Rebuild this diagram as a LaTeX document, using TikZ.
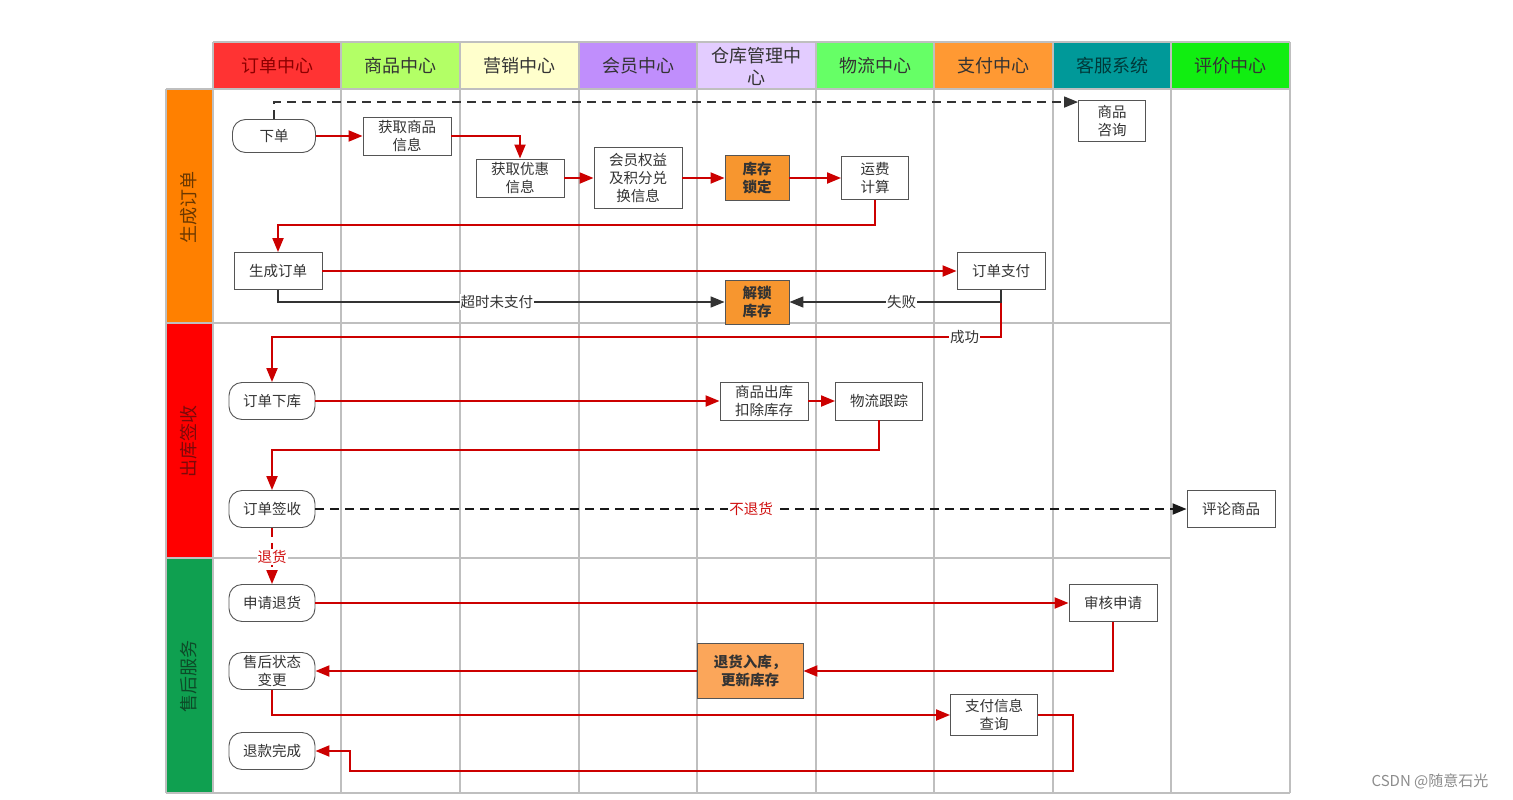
\documentclass[tikz,border=0pt]{standalone}
\usepackage{fontspec}
\setmainfont{Noto Sans CJK SC}
\usetikzlibrary{arrows.meta,calc}
\definecolor{redline}{HTML}{CC0000}
\definecolor{gridc}{HTML}{BFBFBF}
\definecolor{darkline}{HTML}{333333}
\definecolor{boxborder}{HTML}{555555}
\definecolor{textgray}{HTML}{333333}
\definecolor{orangeA}{HTML}{F7962F}
\definecolor{orangeB}{HTML}{FBA65A}
\definecolor{lblred}{HTML}{D01010}
\definecolor{hA}{HTML}{FF3333}
\definecolor{hB}{HTML}{B3FF66}
\definecolor{hC}{HTML}{FFFFCC}
\definecolor{hD}{HTML}{C08EFC}
\definecolor{hE}{HTML}{E3CCFF}
\definecolor{hF}{HTML}{66FF66}
\definecolor{hG}{HTML}{FF9933}
\definecolor{hH}{HTML}{009999}
\definecolor{hI}{HTML}{11EE11}
\definecolor{lA}{HTML}{FF8000}
\definecolor{lB}{HTML}{FF0000}
\definecolor{lC}{HTML}{0FA050}
\definecolor{ltA}{HTML}{6B3800}
\definecolor{ltB}{HTML}{7A0A0A}
\definecolor{ltC}{HTML}{0D4A28}
\newcommand{\nodefont}{\fontsize{14.5}{18}\selectfont}
\newcommand{\hdfont}{\fontsize{18}{22}\selectfont}
\newcommand{\lblfont}{\fontsize{14.5}{17}\selectfont}
\begin{document}
\begin{tikzpicture}[x=1pt,y=-1pt,
  box/.style={draw=boxborder,line width=0.9pt,fill=white,align=center,inner sep=0pt,font=\nodefont,text=textgray},
  rbox/.style={box,rounded corners=13pt},
  obox/.style={box,fill=orangeA,font=\nodefont\bfseries},
  hd/.style={font=\hdfont,align=center,text=textgray},
  lane/.style={font=\hdfont,rotate=90},
  rarr/.style={draw=redline,line width=2pt,-{Triangle[length=14pt,width=11pt]}},
  garr/.style={draw=darkline,line width=1.6pt,-{Triangle[length=14pt,width=11pt]}},
  karr/.style={draw=black!90,line width=1.8pt,-{Triangle[length=14pt,width=11pt]}},
  dsh/.style={dash pattern=on 9pt off 6pt},
  lbl/.style={fill=white,inner sep=1pt,font=\lblfont,text=textgray}
]
\useasboundingbox (0,0) rectangle (1513,800);
% header fills
\fill[hA] (213,42) rectangle (341,89);
\fill[hB] (341,42) rectangle (460,89);
\fill[hC] (460,42) rectangle (579,89);
\fill[hD] (579,42) rectangle (697,89);
\fill[hE] (697,42) rectangle (816,89);
\fill[hF] (816,42) rectangle (934,89);
\fill[hG] (934,42) rectangle (1053,89);
\fill[hH] (1053,42) rectangle (1171,89);
\fill[hI] (1171,42) rectangle (1290,89);
% lane fills
\fill[lA] (166,89) rectangle (213,323);
\fill[lB] (166,323) rectangle (213,558);
\fill[lC] (166,558) rectangle (213,793);
% grid
\begin{scope}[draw=gridc,line width=2pt]
\foreach \x in {213,341,460,579,697,816,934,1053,1171,1290} \draw (\x,42) -- (\x,793);
\draw (166,89) -- (166,793);
\draw (213,42) -- (1290,42);
\draw (166,89) -- (1290,89);
\draw (166,323) -- (1171,323);
\draw (166,558) -- (1171,558);
\draw (166,793) -- (1290,793);
\end{scope}
% header texts
\node[hd,text=black!45!red] (hA) at (277,66) {订单中心};
\node[hd] (hB) at (400,66) {商品中心};
\node[hd] (hC) at (519,66) {营销中心};
\node[hd] (hD) at (638,66) {会员中心};
\node[hd] (hE) at (756,66) {仓库管理中\\心};
\node[hd] (hF) at (875,66) {物流中心};
\node[hd] (hG) at (993,66) {支付中心};
\node[hd,text=black!55!teal] (hH) at (1112,66) {客服系统};
\node[hd] (hI) at (1230,66) {评价中心};
% lane texts
\node[lane,text=ltA] (lnA) at (189,207) {生成订单};
\node[lane,text=ltB] (lnB) at (189,441) {出库签收};
\node[lane,text=ltC] (lnC) at (189,676) {售后服务};
% nodes
\node[rbox,minimum width=83pt,minimum height=33pt] (xd) at (274,136) {下单};
\node[box,minimum width=88pt,minimum height=38pt] (hq) at (407,136) {获取商品\\信息};
\node[box,minimum width=88pt,minimum height=38pt] (yh) at (520,178) {获取优惠\\信息};
\node[box,minimum width=88pt,minimum height=61pt] (hy) at (638,178) {会员权益\\及积分兑\\换信息};
\node[obox,minimum width=64pt,minimum height=45pt] (sd) at (757,178) {库存\\锁定};
\node[box,minimum width=67pt,minimum height=43pt] (yf) at (875,178) {运费\\计算};
\node[box,minimum width=67pt,minimum height=41pt] (zx) at (1112,121) {商品\\咨询};
\node[box,minimum width=88pt,minimum height=37pt] (sc) at (278,271) {生成订单};
\node[box,minimum width=88pt,minimum height=37pt] (zf) at (1001,271) {订单支付};
\node[obox,minimum width=64pt,minimum height=44pt] (js) at (757,302) {解锁\\库存};
\node[rbox,minimum width=86pt,minimum height=37pt] (xk) at (272,401) {订单下库};
\node[box,minimum width=88pt,minimum height=38pt] (ck) at (764,401) {商品出库\\扣除库存};
\node[box,minimum width=87pt,minimum height=38pt] (gz) at (879,401) {物流跟踪};
\node[rbox,minimum width=86pt,minimum height=37pt] (qs) at (272,509) {订单签收};
\node[box,minimum width=88pt,minimum height=37pt] (pl) at (1231,509) {评论商品};
\node[rbox,minimum width=86pt,minimum height=37pt] (sq) at (272,603) {申请退货};
\node[box,minimum width=88pt,minimum height=37pt] (sh) at (1113,603) {审核申请};
\node[rbox,minimum width=86pt,minimum height=37pt] (bg) at (272,671) {售后状态\\变更};
\node[obox,fill=orangeB,minimum width=106pt,minimum height=55pt] (rk) at (750,671) {退货入库，\\更新库存};
\node[box,minimum width=87pt,minimum height=41pt] (cx) at (994,715) {支付信息\\查询};
\node[rbox,minimum width=86pt,minimum height=37pt] (wc) at (272,751) {退款完成};
% connectors
\draw[garr,dsh] (xd.north) |- ([yshift=-2pt]zx.north west);
\draw[rarr] (xd) -- (hq);
\draw[rarr] (hq.east) -| (yh.north);
\draw[rarr] (yh) -- (hy);
\draw[rarr] (hy) -- (sd);
\draw[rarr] (sd) -- (yf);
\draw[rarr] (yf.south) |- (sc.north |- 0,225) -- (sc.north);
\draw[rarr] (sc) -- (zf);
\draw[rarr] (zf.south) -- (zf.south |- 0,337) -- node[lbl,pos=0.05] {成功} (xk.north |- 0,337) -- (xk.north);
\draw[garr] (sc.south) |- node[lbl,pos=0.745] {超时未支付} (js.west);
\draw[garr] (zf.south) |- node[lbl,pos=0.735] {失败} (js.east);
\draw[rarr] (xk) -- (ck);
\draw[rarr] (ck) -- (gz);
\draw[rarr] (gz.south) |- (qs.north |- 0,450) -- (qs.north);
\draw[karr,dsh] (qs) -- node[lbl,text=lblred,pos=0.5] {不退货} (pl);
\draw[rarr,dsh] (qs) -- node[lbl,text=lblred,pos=0.52] {退货} (sq);
\draw[rarr] (sq) -- (sh);
\draw[rarr] (sh.south) |- (rk.east);
\draw[rarr] (rk) -- (bg);
\draw[rarr] (bg.south) |- (cx.west);
\draw[rarr] (cx.east) -- ++(35,0) |- (350,771) |- (wc.east);
% watermark
\node[font=\fontsize{15}{17}\selectfont,text=black!45] (wm) at (1430,781) {CSDN @随意石光};
\end{tikzpicture}
\end{document}
